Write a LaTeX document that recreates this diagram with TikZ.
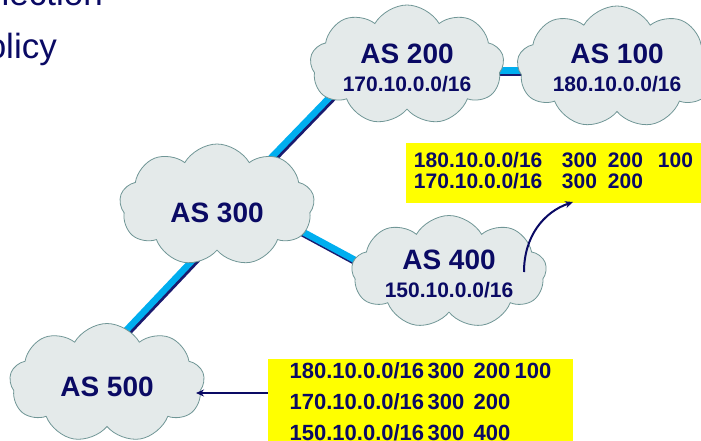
\documentclass[tikz,border=0pt]{standalone}
\usepackage{fontspec}
\setmainfont{Liberation Sans}
\usetikzlibrary{shapes.symbols,arrows.meta,backgrounds}
\definecolor{navy}{RGB}{10,10,100}
\definecolor{linkcyan}{RGB}{0,174,239}
\definecolor{linknavy}{RGB}{26,26,110}
\definecolor{cloudfill}{RGB}{228,234,234}
\definecolor{cloudedge}{RGB}{112,150,150}
\definecolor{boxyellow}{RGB}{255,255,0}
\newcommand\twolbl[3]{\makebox[0pt]{\raisebox{#1}[0pt][0pt]{\begin{tabular}[t]{@{}c@{}}#2\\{\fontsize{21}{28}\selectfont #3}\end{tabular}}}}
\newcommand\onelbl[2]{\makebox[0pt]{\raisebox{#1}[0pt][0pt]{#2}}}
\tikzset{
  asnode/.style={cloud, cloud puffs=9, cloud puff arc=120, cloud ignores aspect,
    draw=cloudedge, fill=cloudfill, line width=0.8pt, inner sep=0pt,
    minimum width=194pt, minimum height=120pt, text=navy,
    font=\bfseries\fontsize{28}{28}\selectfont},
  ybox/.style={rectangle, fill=boxyellow, inner sep=0pt, text=navy},
  linkshadow/.style={draw=linknavy, line width=6.5pt, transform canvas={xshift=1.5pt,yshift=-2.5pt}},
  linkmain/.style={draw=linkcyan, line width=6.5pt},
  arr/.style={draw=navy, line width=2pt, -{Stealth[length=8pt,width=7pt]}},
  titletext/.style={text=navy, inner sep=0pt, font=\fontsize{35}{40}\selectfont}
}
\begin{document}
\begin{tikzpicture}[x=1pt,y=-1pt]
\useasboundingbox (0,0) rectangle (701,440);
% title (partly cut off)
\node[titletext, anchor=base east] (t1) at (103,5) {Selection};
\node[titletext, anchor=base east] (t2) at (57,58) {Policy};
% clouds
\node[asnode] (as200) at (407,65) {\twolbl{2pt}{AS 200}{170.10.0.0/16}};
\node[asnode, minimum width=200pt, minimum height=122pt] (as100) at (617,67) {\twolbl{4pt}{AS 100}{180.10.0.0/16}};
\node[asnode, minimum width=195pt, minimum height=122pt] (as300) at (217,205) {\onelbl{-17pt}{AS 300}};
\node[asnode, minimum width=195pt, minimum height=113pt] (as400) at (449,272) {\twolbl{3pt}{AS 400}{150.10.0.0/16}};
\node[asnode, minimum width=195pt, minimum height=119pt] (as500) at (107,383) {\onelbl{-13pt}{AS 500}};
% links
\begin{scope}[on background layer]
  \path[linkshadow] ([xshift=20pt,yshift=12pt]as300.center) -- ([xshift=-50pt,yshift=-4pt]as200.center);
  \path[linkshadow] ([xshift=8pt,yshift=-21pt]as300.center) -- ([xshift=-7pt,yshift=25pt]as500.center);
  \path[linkshadow] ([xshift=38pt,yshift=-1pt]as300.center) -- ([xshift=-44pt,yshift=-15pt]as400.center);
  \path[linkshadow] ([yshift=-5.5pt]as200.center) -- ([yshift=-3.5pt]as100.center);
  \path[linkmain] ([xshift=20pt,yshift=12pt]as300.center) -- ([xshift=-50pt,yshift=-4pt]as200.center);
  \path[linkmain] ([xshift=8pt,yshift=-21pt]as300.center) -- ([xshift=-7pt,yshift=25pt]as500.center);
  \path[linkmain] ([xshift=38pt,yshift=-1pt]as300.center) -- ([xshift=-44pt,yshift=-15pt]as400.center);
  \path[linkmain] ([yshift=-5.5pt]as200.center) -- ([yshift=-3.5pt]as100.center);
\end{scope}
% route tables
\node[ybox, minimum width=295pt, minimum height=60pt] (box1) at (553.5,173)
  {\fontsize{21}{20}\selectfont\bfseries
   \begin{tabular}{@{}l@{}}
   \makebox[148pt][l]{180.10.0.0/16}\makebox[46pt][l]{300}\makebox[50pt][l]{200}100\\
   \makebox[148pt][l]{170.10.0.0/16}\makebox[46pt][l]{300}\makebox[50pt][l]{200}\hphantom{100}
   \end{tabular}};
\node[ybox, minimum width=305pt, minimum height=101pt] (box2) at (420.5,409.5)
  {\fontsize{22}{31}\selectfont\bfseries
   \raisebox{31.5pt}[0pt][0pt]{\begin{tabular}[t]{@{}l@{}}
   \makebox[138pt][l]{180.10.0.0/16}\makebox[46pt][l]{300}\makebox[41pt][l]{200}100\\
   \makebox[138pt][l]{170.10.0.0/16}\makebox[46pt][l]{300}\makebox[41pt][l]{200}\hphantom{100}\\
   \makebox[138pt][l]{150.10.0.0/16}\makebox[46pt][l]{300}\makebox[41pt][l]{400}\hphantom{100}
   \end{tabular}}};
% arrows
\coordinate (a400) at (524,272);
\coordinate (b1in) at (573,202);
\coordinate (a500) at (196,393);
\draw[arr] (a400) .. controls (524,236) and (544,212) .. (b1in);
\draw[arr] (box2.west |- a500) -- (a500);
\end{tikzpicture}
\end{document}
